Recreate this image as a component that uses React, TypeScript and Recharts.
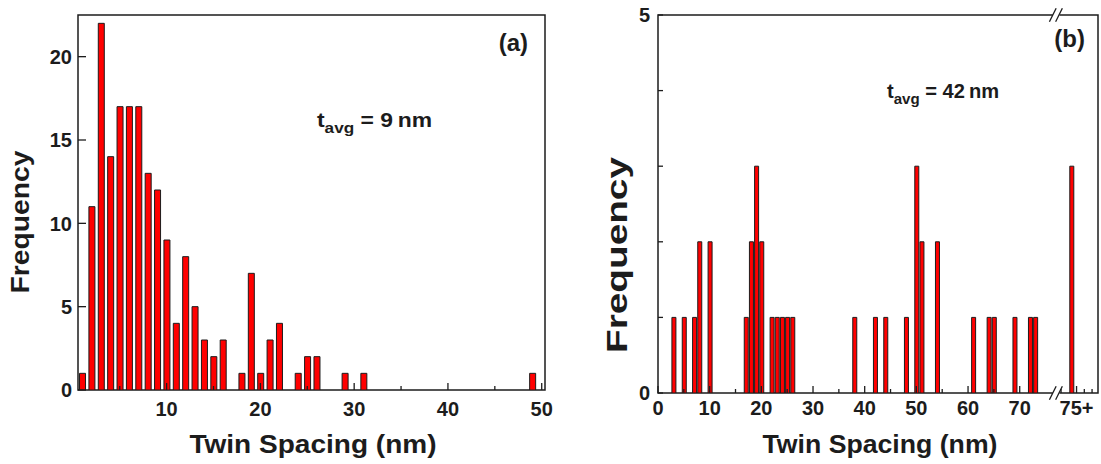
import { BarChart, Bar, XAxis, YAxis, ReferenceArea, ReferenceLine } from 'recharts';

// (a) twin spacing histogram, 1 nm bins (empty bins left out)
const spacingA = [1, 2, 3, 4, 5, 6, 7, 8, 9, 10, 11, 12, 13, 14, 15, 16, 18, 19, 20, 21, 22, 24, 25, 26, 29, 31, 49];
const freqA = [1, 11, 22, 14, 17, 17, 17, 13, 12, 9, 4, 8, 5, 3, 2, 3, 1, 7, 1, 3, 4, 1, 2, 2, 1, 1, 1];
const ticksAX = [5, 10, 15, 20, 25, 30, 35, 40, 45, 50];
const ticksAY = [0, 5, 10, 15, 20];

// (b) last bin is the "75+" overflow bin, drawn after the axis break
const spacingB = [3, 5, 7, 8, 10, 17, 18, 19, 20, 22, 23, 24, 25, 26, 38, 42, 44, 48, 50, 51, 54, 61, 64, 65, 69, 72, 73, 80];
const freqB = [1, 1, 1, 2, 2, 1, 2, 3, 2, 1, 1, 1, 1, 1, 1, 1, 1, 1, 3, 2, 2, 1, 1, 1, 1, 1, 1, 3];
const ticksBX = [0, 5, 10, 15, 20, 25, 30, 35, 40, 45, 50, 55, 60, 65, 70, 78, 81, 82.5, 84];
const labelsBX: Record<number, string> = { 0: '0', 10: '10', 20: '20', 30: '30', 40: '40', 50: '50', 60: '60', 70: '70', 81: '75+' };
const ticksBY = [0, 1, 2, 3, 4, 5];

const domAX: [number, number] = [0.55, 50.35];
const domAY: [number, number] = [0, 22.5];
const domBX: [number, number] = [0, 85.15];
const domBY: [number, number] = [0, 5];
const BREAK_AT = 77;

const dataA = spacingA.map((x, i) => ({ x, y: freqA[i] }));
const dataB = spacingB.map((x, i) => ({ x, y: freqB[i] }));

const FONT = '"Liberation Sans", Arial, sans-serif';
const INK = '#1c1c1c';

function makeXTick(labelFor: (v: number) => string | null, labelDy: number) {
  return (props: any) => {
    const { x, y, payload } = props;
    const label = labelFor(payload.value);
    const len = label !== null ? 7 : 4;
    return (
      <g>
        <line x1={x} x2={x} y1={y} y2={y - len} stroke={INK} strokeWidth={1.3} />
        {label !== null && (
          <text x={x} y={y + labelDy} textAnchor="middle" fontSize={20} fontWeight="bold" fill={INK} fontFamily={FONT}>
            {label}
          </text>
        )}
      </g>
    );
  };
}

function makeYTick(labelFor: (v: number) => string | null, len: number, gap: number) {
  return (props: any) => {
    const { x, y, payload } = props;
    const label = labelFor(payload.value);
    return (
      <g>
        <line x1={x} x2={x + len} y1={y} y2={y} stroke={INK} strokeWidth={1.3} />
        {label !== null && (
          <text x={x - gap} y={y} dy="0.36em" textAnchor="end" fontSize={20} fontWeight="bold" fill={INK} fontFamily={FONT}>
            {label}
          </text>
        )}
      </g>
    );
  };
}

const tickAX = makeXTick((v) => (v % 10 === 0 ? String(v) : null), 26);
const tickAY = makeYTick((v) => String(v), 8, 6);
const tickBX = makeXTick((v) => labelsBX[v] ?? null, 22);
const tickBY = makeYTick((v) => (v === 0 || v === 5 ? String(v) : null), 5, 8);

function Annotations() {
  const txt = { fontFamily: FONT, fontWeight: 'bold' as const, fill: INK };
  return (
    <svg width={1101} height={464} style={{ position: 'absolute', left: 0, top: 0, pointerEvents: 'none' }}>
      <text {...txt} fontSize={25} transform="translate(29,222) rotate(-90)" textAnchor="middle" textLength={143} lengthAdjust="spacingAndGlyphs">
        Frequency
      </text>
      <text {...txt} fontSize={29} transform="translate(627,255) rotate(-90)" textAnchor="middle" textLength={196} lengthAdjust="spacingAndGlyphs">
        Frequency
      </text>
      <text {...txt} fontSize={26} x={313} y={453} textAnchor="middle" textLength={247} lengthAdjust="spacingAndGlyphs">
        Twin Spacing (nm)
      </text>
      <text {...txt} fontSize={26} x={880} y={453} textAnchor="middle" textLength={235} lengthAdjust="spacingAndGlyphs">
        Twin Spacing (nm)
      </text>
      <text {...txt} fontSize={24} x={528} y={51} textAnchor="end">(a)</text>
      <text {...txt} fontSize={24} x={1085} y={47} textAnchor="end">(b)</text>
      <text {...txt} fontSize={20} x={317} y={127} textLength={115} lengthAdjust="spacingAndGlyphs">
        t<tspan fontSize={15} dy={6}>avg</tspan>
        <tspan dy={-6}> = 9{'\u2009'}nm</tspan>
      </text>
      <text {...txt} fontSize={20} x={887} y={98} textLength={112} lengthAdjust="spacingAndGlyphs">
        t<tspan fontSize={15} dy={6}>avg</tspan>
        <tspan dy={-6}> = 42{'\u2009'}nm</tspan>
      </text>
    </svg>
  );
}

export default function App() {
  return (
    <div style={{ position: 'absolute', left: 0, top: 0, width: 1101, height: 464, background: '#fff', fontFamily: FONT }}>
      <div style={{ position: 'absolute', left: 0, top: 0 }}>
        <BarChart width={560} height={464} data={dataA} margin={{ top: 15, right: 15, bottom: 0, left: 0 }}>
          <XAxis type="number" dataKey="x" domain={domAX} allowDataOverflow ticks={ticksAX} interval={0} height={74}
            tickSize={0} tickMargin={0} axisLine={false} tickLine={false} tick={tickAX} />
          <YAxis type="number" domain={domAY} allowDataOverflow ticks={ticksAY} interval={0} width={78}
            tickSize={0} tickMargin={0} axisLine={false} tickLine={false} tick={tickAY} />
          <Bar dataKey="y" fill="#ff0000" stroke={INK} strokeWidth={1} barSize={6} isAnimationActive={false} />
          <ReferenceArea x1={domAX[0]} x2={domAX[1]} y1={domAY[0]} y2={domAY[1]} fill="none" fillOpacity={0} stroke={INK} strokeWidth={1.5} />
        </BarChart>
      </div>
      <div style={{ position: 'absolute', left: 560, top: 0 }}>
        <BarChart width={541} height={464} data={dataB} margin={{ top: 15, right: 3, bottom: 0, left: 0 }}>
          <XAxis type="number" dataKey="x" domain={domBX} allowDataOverflow ticks={ticksBX} interval={0} height={71}
            tickSize={0} tickMargin={0} axisLine={false} tickLine={false} tick={tickBX} />
          <YAxis type="number" domain={domBY} allowDataOverflow ticks={ticksBY} interval={0} width={98}
            tickSize={0} tickMargin={0} axisLine={false} tickLine={false} tick={tickBY} />
          <Bar dataKey="y" fill="#ff0000" stroke={INK} strokeWidth={1} barSize={4} isAnimationActive={false} />
          <ReferenceArea x1={domBX[0]} x2={domBX[1]} y1={domBY[0]} y2={domBY[1]} fill="none" fillOpacity={0} stroke={INK} strokeWidth={1.5} />
          {/* axis break: gap in the frame plus the two slashes, top and bottom */}
          {[domBY[0], domBY[1]].map((yv) => (
            <ReferenceLine key={`gap${yv}`} ifOverflow="visible" stroke="#fff" strokeWidth={4}
              segment={[{ x: BREAK_AT - 0.6, y: yv }, { x: BREAK_AT + 0.7, y: yv }]} />
          ))}
          {[domBY[0], domBY[1]].flatMap((yv) =>
            [-0.6, 0.6].map((dx) => (
              <ReferenceLine key={`sl${yv}${dx}`} ifOverflow="visible" stroke={INK} strokeWidth={1.3}
                segment={[{ x: BREAK_AT + dx - 0.65, y: yv - 0.09 }, { x: BREAK_AT + dx + 0.65, y: yv + 0.09 }]} />
            ))
          )}
        </BarChart>
      </div>
      <Annotations />
    </div>
  );
}
